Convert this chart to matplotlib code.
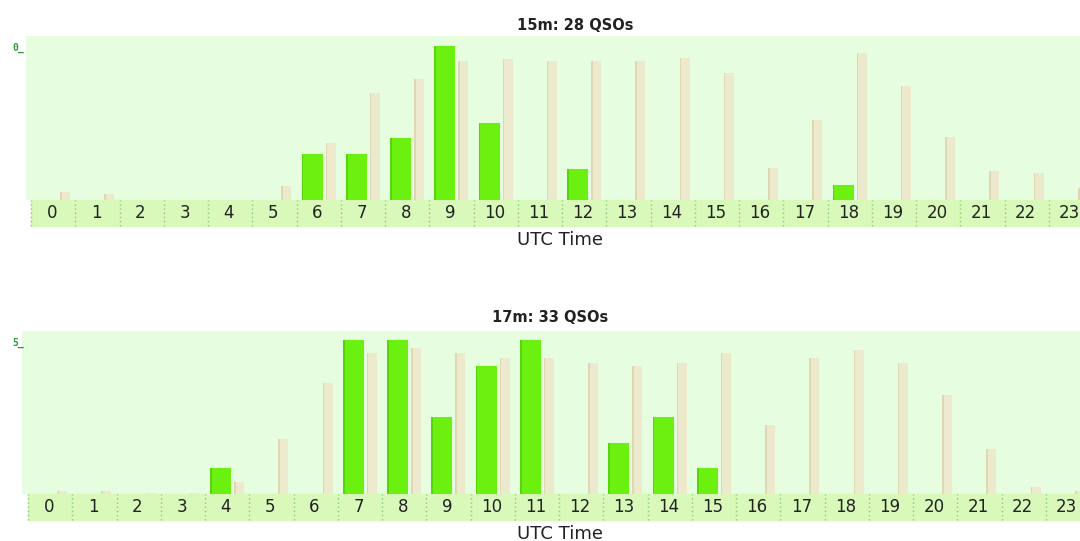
import matplotlib.pyplot as plt
from matplotlib.patches import Rectangle
from matplotlib.transforms import blended_transform_factory
import numpy as np

hours = list(range(24))

# 15m band: QSOs per hour and the pale reference bars
qso_15m = [0, 0, 0, 0, 0, 0, 3, 3, 4, 10, 5, 0, 2, 0, 0, 0, 0, 0, 1, 0, 0, 0, 0, 0]
ref_15m = [0.5, 0.4, 0, 0, 0, 0.9, 3.7, 6.95, 7.85, 9.0, 9.15, 9.0, 9.0, 9.0,
           9.2, 8.25, 2.1, 5.2, 9.55, 7.4, 4.1, 1.9, 1.75, 0.8]

# 17m band
qso_17m = [0, 0, 0, 0, 1, 0, 0, 6, 6, 3, 5, 6, 0, 2, 3, 1, 0, 0, 0, 0, 0, 0, 0, 0]
ref_17m = [0.1, 0.1, 0.05, 0.05, 0.45, 2.15, 4.3, 5.5, 5.7, 5.5, 5.3, 5.3, 5.1,
           5.0, 5.1, 5.5, 2.7, 5.3, 5.6, 5.1, 3.85, 1.75, 0.27, 0.1]

titles = ["15m: 28 QSOs", "17m: 33 QSOs"]
corner = ["0_", "5_"]

BG = "#e6fde0"
STRIP = "#d8f9b9"
GREEN = "#6cf010"
GREEN_DARK = "#58d40c"
BEIGE = "#ece9cc"
BEIGE_DARK = "#ddd7b2"

fig = plt.figure(figsize=(10.8, 5.41), dpi=100)
W, H = 1080, 541


def panel(px_left, px_top, px_bottom, x0_px, qso, ref, ymax, title, title_x, title_y, xlab_y, lab):
    ax = fig.add_axes([px_left / W, 1 - px_bottom / H, 1 - px_left / W, (px_bottom - px_top) / H])
    slot = 44.26
    xmin = (px_left - x0_px) / slot
    xmax = (W - x0_px) / slot
    ax.set_xlim(xmin, xmax)
    ax.set_ylim(0, ymax)
    ax.set_facecolor(BG)
    for s in ax.spines.values():
        s.set_visible(False)
    ax.set_xticks([])
    ax.set_yticks([])

    x = np.array(hours)
    ax.bar(x + 0.113, qso, width=0.474, align="edge", color=GREEN, zorder=3)
    ax.bar(x + 0.113, qso, width=0.04, align="edge", color=GREEN_DARK, zorder=3)
    ax.bar(x + 0.655, ref, width=0.225, align="edge", color=BEIGE, zorder=2)
    ax.bar(x + 0.655, ref, width=0.035, align="edge", color=BEIGE_DARK, zorder=2)

    # tick strip below the plot area
    tr = blended_transform_factory(ax.transData, ax.transAxes)
    hpx = px_bottom - px_top
    sh = 26 / hpx
    ax.add_patch(Rectangle((0, -sh), 30, sh, transform=tr, color=STRIP, clip_on=False, zorder=1))
    for h in hours:
        ax.plot([h, h], [-sh, 0], transform=tr, color="#7fcf7a", lw=1, ls=(0, (1, 2)),
                clip_on=False, zorder=2)
        ax.text(h + 0.47, -sh / 2, str(h), transform=tr, ha="center", va="center",
                fontsize=12, color="#222222", clip_on=False)

    fig.text(title_x / W, 1 - title_y / H, title, ha="center", va="center",
             fontsize=10.5, fontweight="bold", color="#222222")
    fig.text(560 / W, 1 - xlab_y / H, "UTC Time", ha="center", va="center",
             fontsize=13, color="#222222")
    fig.text(12 / W, 1 - (px_top + 12) / H, lab, ha="left", va="center",
             fontsize=7, color="#2a9a3a", family="DejaVu Sans Mono", fontweight="bold")
    return ax


panel(26, 36, 200, 31, qso_15m, ref_15m, 164 / 15.4, titles[0], 575, 25, 240, corner[0])
panel(22, 331, 494, 28, qso_17m, ref_17m, 163 / 25.7, titles[1], 550, 318, 534, corner[1])

fig.savefig("out.png", dpi=100, facecolor="white")
